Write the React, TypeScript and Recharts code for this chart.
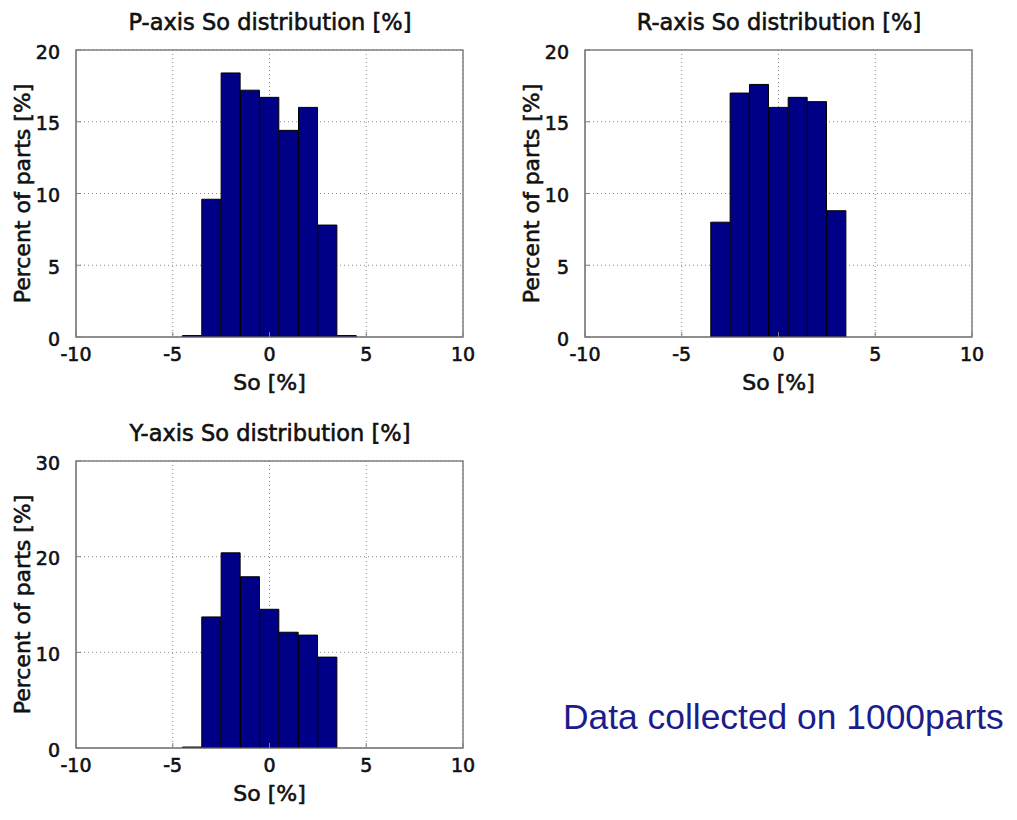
import React from "react";
import {
  BarChart,
  Bar,
  XAxis,
  YAxis,
  CartesianGrid,
  ReferenceArea,
  Label,
} from "recharts";

// bin centres (So %) and share of parts per bin (%)
const SO_TICKS = [-10, -5, 0, 5, 10];

const P_BINS = [-4, -3, -2, -1, 0, 1, 2, 3, 4];
const P_PERCENT = [0.1, 9.6, 18.4, 17.2, 16.7, 14.4, 16.0, 7.8, 0.1];
const P_Y_TICKS = [0, 5, 10, 15, 20];

const R_BINS = [-3, -2, -1, 0, 1, 2, 3];
const R_PERCENT = [8.0, 17.0, 17.6, 16.0, 16.7, 16.4, 8.8];
const R_Y_TICKS = [0, 5, 10, 15, 20];

const Y_BINS = [-4, -3, -2, -1, 0, 1, 2, 3];
const Y_PERCENT = [0.1, 13.7, 20.4, 17.9, 14.5, 12.1, 11.8, 9.5];
const Y_Y_TICKS = [0, 10, 20, 30];

const FONT = "'DejaVu Sans', Verdana, sans-serif";
const TEXT = "#111";
const FRAME = "#808080";
const BAR_FILL = "#000086";

const CHART_W = 490;
const CHART_H = 409;

// a hairline outline gives the heavier look of the plot lettering
const heavy = { stroke: TEXT, strokeWidth: 0.6 };

type HistProps = {
  bins: number[];
  values: number[];
  yTicks: number[];
  title: string;
  left: number;
  top: number;
};

const XTitle = (props: any) => {
  const { x, y, width } = props.viewBox;
  return (
    <text
      x={x + width / 2}
      y={y + 53}
      textAnchor="middle"
      fontFamily={FONT}
      fontSize={22}
      fill={TEXT}
      {...heavy}
    >
      So [%]
    </text>
  );
};

const YTitle = (props: any) => {
  const { y, height } = props.viewBox;
  const cx = 30;
  const cy = y + height / 2;
  return (
    <text
      x={cx}
      y={cy}
      textAnchor="middle"
      transform={`rotate(-90 ${cx} ${cy})`}
      fontFamily={FONT}
      fontSize={22}
      fill={TEXT}
      {...heavy}
    >
      Percent of parts [%]
    </text>
  );
};

const Histogram: React.FC<HistProps> = ({ bins, values, yTicks, title, left, top }) => {
  const data = bins.map((so, i) => ({ so, pct: values[i] }));
  const yMax = yTicks[yTicks.length - 1];
  const tickStyle = { fill: TEXT, fontSize: 19, fontFamily: FONT, ...heavy };

  return (
    <div style={{ position: "absolute", left, top, width: CHART_W, height: CHART_H }}>
      <svg
        width={CHART_W}
        height={40}
        style={{ position: "absolute", left: 0, top: 0 }}
      >
        <text
          x={270}
          y={30}
          textAnchor="middle"
          fontFamily={FONT}
          fontSize={22.5}
          fill={TEXT}
          {...heavy}
        >
          {title}
        </text>
      </svg>
      <BarChart
        width={CHART_W}
        height={CHART_H}
        data={data}
        margin={{ top: 50, right: 27, bottom: 0, left: 0 }}
        barCategoryGap={0}
        barGap={0}
      >
        <CartesianGrid stroke="#8a8a8a" strokeDasharray="1 3" />
        <XAxis
          dataKey="so"
          type="number"
          domain={[-10, 10]}
          ticks={SO_TICKS}
          interval={0}
          allowDataOverflow
          height={72}
          tickSize={-5}
          tickMargin={16}
          stroke={FRAME}
          tick={tickStyle}
        >
          <Label content={XTitle} />
        </XAxis>
        <YAxis
          type="number"
          domain={[0, yMax]}
          ticks={yTicks}
          interval={0}
          allowDataOverflow
          width={76}
          tickSize={-5}
          tickMargin={21}
          stroke={FRAME}
          tick={{ ...tickStyle, dy: 2 }}
        >
          <Label content={YTitle} />
        </YAxis>
        <Bar
          dataKey="pct"
          fill={BAR_FILL}
          stroke="#000"
          strokeWidth={1}
          isAnimationActive={false}
        />
        <ReferenceArea
          x1={-10}
          x2={10}
          y1={0}
          y2={yMax}
          fill="none"
          stroke={FRAME}
          strokeWidth={1.5}
          ifOverflow="visible"
        />
      </BarChart>
    </div>
  );
};

export default function App() {
  return (
    <div
      style={{
        position: "absolute",
        left: 0,
        top: 0,
        width: 1017,
        height: 820,
        background: "#fff",
        overflow: "hidden",
      }}
    >
      <Histogram
        bins={P_BINS}
        values={P_PERCENT}
        yTicks={P_Y_TICKS}
        title="P-axis So distribution [%]"
        left={0}
        top={0}
      />
      <Histogram
        bins={R_BINS}
        values={R_PERCENT}
        yTicks={R_Y_TICKS}
        title="R-axis So distribution [%]"
        left={509}
        top={0}
      />
      <Histogram
        bins={Y_BINS}
        values={Y_PERCENT}
        yTicks={Y_Y_TICKS}
        title="Y-axis So distribution [%]"
        left={0}
        top={411}
      />
      <svg
        width={1017}
        height={820}
        style={{ position: "absolute", left: 0, top: 0, pointerEvents: "none" }}
      >
        <text
          x={563}
          y={729}
          fontFamily="Arial, 'Liberation Sans', sans-serif"
          fontSize={35.4}
          fill="#1c1c8c"
        >
          Data collected on 1000parts
        </text>
      </svg>
    </div>
  );
}
